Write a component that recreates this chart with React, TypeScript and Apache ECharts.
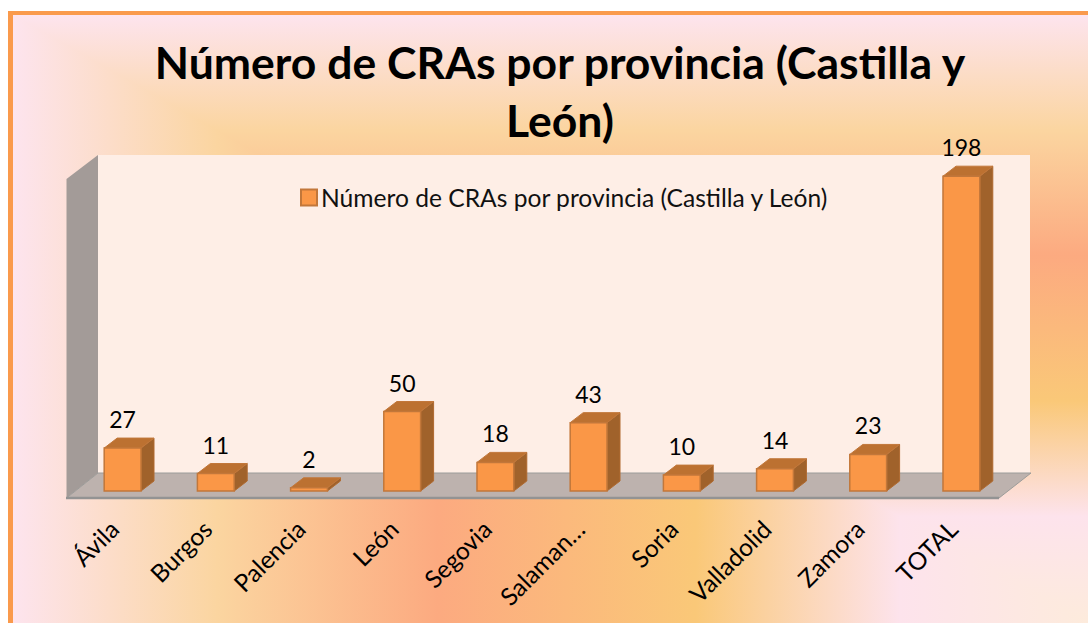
import React, { useEffect, useRef } from "react";
import * as echarts from "echarts";

const categories = ["Ávila", "Burgos", "Palencia", "León", "Segovia", "Salaman…", "Soria", "Valladolid", "Zamora", "TOTAL"];
const values = [27, 11, 2, 50, 18, 43, 10, 14, 23, 198];
const seriesName = "Número de CRAs por provincia (Castilla y León)";
const titleText = "Número de CRAs por provincia (Castilla y\nLeón)";
const FONT = "Lato, Carlito, 'Open Sans', sans-serif";
const bgStops = [
  [0, "#FDE4EE"], [0.19, "#FBD5A0"], [0.395, "#FCAA80"], [0.635, "#FAC878"], [0.825, "#FDE3EC"], [1, "#FDEBDC"],
];
const colorStops = bgStops.map(([offset, color]) => ({ offset, color }));
const grad = (x2: number, y2: number) => ({ type: "linear", x: 0, y: 0, x2, y2, colorStops });

const DX = 13, DY = -10;

function renderBar(params: any, api: any) {
  const i = api.value(0), v = api.value(1);
  const top = api.coord([i, v]);
  const base = api.coord([i, 0]);
  const w = api.size([1, 0])[0] * 0.395;
  const l = top[0] - w / 2, r = top[0] + w / 2, t = top[1], b = base[1];
  const border = "#C2773A";
  return {
    type: "group",
    children: [
      { type: "polygon", shape: { points: [[r, t], [r + DX, t + DY], [r + DX, b + DY], [r, b]] }, style: { fill: "#A0622B", stroke: "#B06A30", lineWidth: 1 } },
      { type: "polygon", shape: { points: [[l, t], [l + DX, t + DY], [r + DX, t + DY], [r, t]] }, style: { fill: "#BC7131", stroke: "#C2773A", lineWidth: 1 } },
      { type: "rect", shape: { x: l, y: t, width: w, height: b - t }, style: { fill: "#FA9747", stroke: border, lineWidth: 1.5 } },
      { type: "text", style: { x: top[0], y: t - 29, text: String(v), fill: "#000", font: `23px ${FONT}`, align: "center", verticalAlign: "middle" } },
    ],
  };
}

export default function App() {
  const ref = useRef<HTMLDivElement>(null);
  useEffect(() => {
    document.body.style.margin = "0";
    const chart = echarts.init(ref.current!, null, { renderer: "svg" });
    chart.setOption({
      animation: false,
      backgroundColor: "#fff",
      title: {
        text: titleText, left: 555, top: 27, textAlign: "center",
        textStyle: { fontFamily: FONT, fontWeight: "bold", fontSize: 44.5, lineHeight: 58, color: "#000" },
      },
      legend: {
        left: 295, top: 180, icon: "rect", itemWidth: 16, itemHeight: 16, itemGap: 6,
        data: [seriesName],
        textStyle: { fontFamily: FONT, fontSize: 24.6, color: "#111", padding: [0, 0, 0, -1] },
      },
      grid: { left: 76, width: 932, top: 173, height: 318 },
      xAxis: {
        type: "category", data: categories,
        axisLine: { show: false }, axisTick: { show: false },
        axisLabel: { interval: 0, rotate: 45, margin: 25, padding: [0, 12, 0, 0], fontFamily: FONT, fontSize: 24.5, color: "#000" },
      },
      yAxis: { type: "value", min: 0, max: 200, show: false },
      graphic: [
        { type: "rect", z: -10, shape: { x: 8, y: 11, width: 1080, height: 612 }, style: { fill: "#FA9A4C" } },
        { type: "rect", z: -9, shape: { x: 13, y: 15, width: 1075, height: 608 }, style: { fill: grad(1, 0) } },
        { type: "polygon", z: -8, shape: { points: [[13, 15], [1088, 15], [1088, 623]] }, style: { fill: grad(0, 1) } },
        { type: "rect", z: -7, shape: { x: 98, y: 155, width: 932, height: 318 }, style: { fill: "#FEEEE6" } },
        { type: "polygon", z: -7, shape: { points: [[66.5, 179], [98, 155], [98, 473], [66.5, 498]] }, style: { fill: "#A39B98" } },
        { type: "polygon", z: -6, shape: { points: [[66.5, 498], [98, 473], [1031, 473], [999, 498]] }, style: { fill: "#BDB2AE", stroke: "#9C9C9A", lineWidth: 1 } },
        { type: "line", z: -5, shape: { x1: 66, y1: 498, x2: 999, y2: 498 }, style: { stroke: "#939393", lineWidth: 2.5 } },
      ],
      series: [{
        type: "custom", name: seriesName, renderItem: renderBar,
        data: values.map((v, i) => [i, v]),
        encode: { x: 0, y: 1 },
        clip: false,
        itemStyle: { color: "#FA9747", borderColor: "#C2773A", borderWidth: 1.5 },
      }],
    });
    return () => chart.dispose();
  }, []);
  return <div ref={ref} style={{ width: 1088, height: 623 }} />;
}
